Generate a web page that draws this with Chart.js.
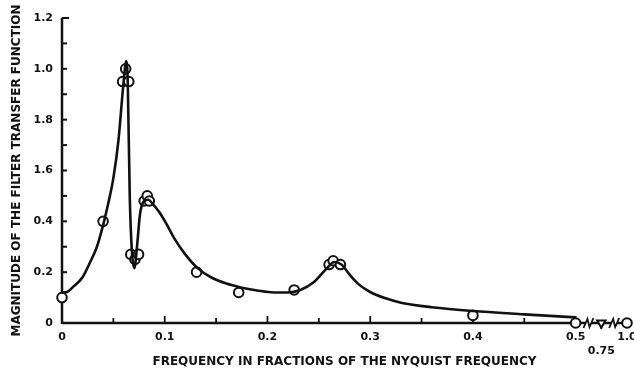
<!DOCTYPE html>
<html>
<head>
<meta charset="utf-8">
<script src="https://cdn.jsdelivr.net/npm/chart.js@4/dist/chart.umd.min.js"></script>
<style>
  html, body { margin: 0; padding: 0; background: #fff; }
  #wrap { width: 634px; height: 370px; }
</style>
</head>
<body>
<div id="wrap"><canvas id="chart"></canvas></div>
<script>
// measured points (circles on the plot)
const markerFreq = [0, 0.040, 0.059, 0.062, 0.065, 0.067, 0.071, 0.0745, 0.080, 0.083, 0.085,
  0.131, 0.172, 0.226, 0.260, 0.264, 0.271, 0.400, 0.500, 0.75, 1.0];
const markerMag = [0.10, 0.40, 0.95, 1.00, 0.95, 0.27, 0.25, 0.27, 0.48, 0.50, 0.48,
  0.20, 0.12, 0.13, 0.23, 0.245, 0.23, 0.03, 0.0, 0.0, 0.0];

// the drawn smooth curve
const curveFreq = [0, 0.005, 0.011, 0.020, 0.027, 0.034, 0.040, 0.045, 0.050, 0.055, 0.060,
  0.0625, 0.064, 0.066, 0.0705, 0.073, 0.076, 0.080, 0.084, 0.088, 0.095, 0.103, 0.109,
  0.120, 0.1315, 0.145, 0.160, 0.174, 0.190, 0.206, 0.220, 0.232, 0.245, 0.258, 0.265,
  0.272, 0.280, 0.288, 0.300, 0.315, 0.330, 0.360, 0.400, 0.450, 0.500];
const curveMag = [0.12, 0.122, 0.143, 0.18, 0.236, 0.30, 0.385, 0.47, 0.57, 0.72, 0.95,
  1.03, 0.95, 0.49, 0.216, 0.30, 0.43, 0.48, 0.485, 0.47, 0.435, 0.38, 0.335,
  0.27, 0.218, 0.18, 0.155, 0.14, 0.128, 0.12, 0.12, 0.13, 0.16, 0.216, 0.24,
  0.23, 0.19, 0.155, 0.122, 0.097, 0.08, 0.062, 0.047, 0.034, 0.022];

const xTickFreqs = [0, 0.1, 0.2, 0.3, 0.4, 0.5, 0.75, 1.0];
const xTickLabels = ['0', '0.1', '0.2', '0.3', '0.4', '0.5', ['', '0.75'], '1.0'];
const yTickValues = [0, 0.2, 0.4, 0.6, 0.8, 1.0, 1.2];
const yTickLabels = ['0', '0.2', '0.4', '1.6', '1.8', '1.0', '1.2'];

// broken axis: beyond 0.5 the scale is compressed
const brk = f => f <= 0.5 ? f : 0.5 + (f - 0.5) * 0.1;

const ink = '#111';
const font = { family: 'DejaVu Sans', weight: 'bold', size: 11 };
const titleFont = { family: 'DejaVu Sans', weight: 'bold', size: 12 };

const axesPlugin = {
  id: 'axes',
  beforeDatasetsDraw(chart) {
    const { ctx, scales: { x, y } } = chart;
    const x0 = x.getPixelForValue(0), y0 = y.getPixelForValue(0);
    ctx.save();
    ctx.strokeStyle = ink;
    ctx.lineCap = 'butt';
    // y axis with ticks pointing inward
    ctx.lineWidth = 2.5;
    ctx.beginPath();
    ctx.moveTo(x0, y0 + 1);
    ctx.lineTo(x0, y.getPixelForValue(1.2));
    ctx.stroke();
    ctx.lineWidth = 2;
    for (let i = 1; i <= 12; i++) {
      const py = y.getPixelForValue(i / 10);
      ctx.beginPath();
      ctx.moveTo(x0, py);
      ctx.lineTo(x0 + (i === 12 ? 7 : 5), py);
      ctx.stroke();
    }
    // x axis
    ctx.lineWidth = 2.5;
    ctx.beginPath();
    ctx.moveTo(x0, y0);
    ctx.lineTo(x.getPixelForValue(brk(1.0)), y0);
    ctx.stroke();
    ctx.lineWidth = 1.8;
    for (let i = 1; i <= 10; i++) {
      const px = x.getPixelForValue(i / 20);
      ctx.beginPath();
      ctx.moveTo(px, y0);
      ctx.lineTo(px, y0 - (i % 2 === 0 ? 7 : 5));
      ctx.stroke();
    }
    const p75 = x.getPixelForValue(brk(0.75));
    ctx.beginPath();
    ctx.moveTo(p75, y0);
    ctx.lineTo(p75, y0 + 6);
    ctx.stroke();
    // break symbols
    [0.5125, 0.5375].forEach(v => {
      const px = x.getPixelForValue(v);
      ctx.fillStyle = '#fff';
      ctx.fillRect(px - 3, y0 - 3, 6, 6);
      ctx.lineWidth = 1.8;
      ctx.beginPath();
      ctx.moveTo(px - 5, y0 + 5);
      ctx.lineTo(px - 1, y0 - 4);
      ctx.lineTo(px + 1, y0 + 4);
      ctx.lineTo(px + 5, y0 - 5);
      ctx.stroke();
    });
    ctx.restore();
  }
};

new Chart(document.getElementById('chart'), {
  type: 'scatter',
  data: {
    datasets: [
      {
        type: 'line',
        data: curveFreq.map((f, i) => ({ x: brk(f), y: curveMag[i] })),
        borderColor: ink,
        borderWidth: 2.6,
        pointRadius: 0,
        cubicInterpolationMode: 'monotone',
        fill: false,
        clip: false
      },
      {
        data: markerFreq.map((f, i) => ({ x: brk(f), y: markerMag[i] })),
        pointStyle: markerFreq.map(f => f === 0.75 ? 'triangle' : 'circle'),
        rotation: markerFreq.map(f => f === 0.75 ? 180 : 0),
        pointRadius: 4.8,
        pointBorderWidth: 2,
        pointBorderColor: ink,
        pointBackgroundColor: '#fff',
        clip: false
      },
      {
        data: markerFreq.map((f, i) => ({ x: brk(f), y: markerMag[i] })),
        pointRadius: 1,
        pointBorderWidth: 0,
        pointBackgroundColor: ink,
        clip: false
      }
    ]
  },
  options: {
    responsive: true,
    maintainAspectRatio: false,
    animation: false,
    layout: { padding: { top: 18, right: 7, left: 0, bottom: 0 } },
    plugins: { legend: { display: false }, tooltip: { enabled: false } },
    scales: {
      x: {
        type: 'linear',
        min: 0,
        max: brk(1.0),
        grid: { display: false, drawTicks: false },
        border: { display: false },
        afterFit: s => { s.height = 47; s.paddingRight = 0; },
        afterBuildTicks: s => { s.ticks = xTickFreqs.map(f => ({ value: brk(f) })); },
        ticks: {
          autoSkip: false,
          maxRotation: 0,
          padding: 8,
          color: ink,
          font,
          callback: (v, i) => xTickLabels[i]
        },
        title: {
          display: true,
          text: 'FREQUENCY IN FRACTIONS OF THE NYQUIST FREQUENCY',
          color: ink,
          font: titleFont,
          padding: { top: 0, bottom: 1 }
        }
      },
      y: {
        min: 0,
        max: 1.2,
        grid: { display: false, drawTicks: false },
        border: { display: false },
        afterFit: s => { s.width = 62; },
        afterBuildTicks: s => { s.ticks = yTickValues.map(v => ({ value: v })); },
        ticks: {
          padding: 9,
          color: ink,
          font,
          callback: (v, i) => yTickLabels[i]
        },
        title: {
          display: true,
          text: 'MAGNITUDE OF THE FILTER TRANSFER FUNCTION',
          color: ink,
          font: titleFont,
          padding: { top: 10, bottom: 0 }
        }
      }
    }
  },
  plugins: [axesPlugin]
});
</script>
</body>
</html>
